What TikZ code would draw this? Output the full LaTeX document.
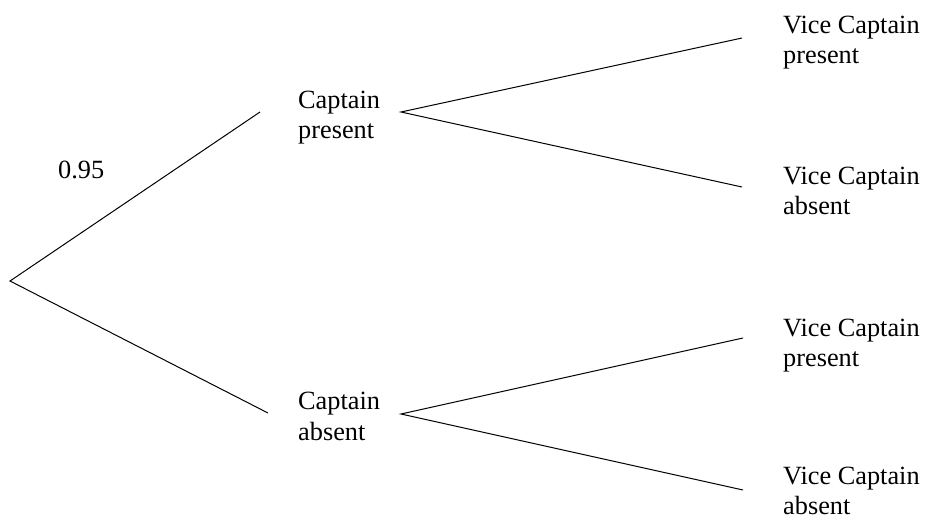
\documentclass[tikz,border=0pt]{standalone}
\usepackage{fontspec}
\setmainfont{Liberation Serif}
\begin{document}
\begin{tikzpicture}[x=1pt,y=-1pt,
  lbl/.style={anchor=base west,inner sep=0pt,align=left,font=\fontsize{26.3}{30.5}\selectfont},
  br/.style={line width=1pt,black}]
\useasboundingbox (0,0) rectangle (925,520);
\coordinate (root) at (10,281);
\coordinate (cpL) at (260,112);
\coordinate (caL) at (268,413);
\coordinate (cpR) at (401,112);
\coordinate (caR) at (401,414);
\coordinate (e1) at (742,38);
\coordinate (e2) at (742,187);
\coordinate (e3) at (743,338);
\coordinate (e4) at (743,490);
\node[lbl] (cp) at (298,138.5) {Captain\\present};
\node[lbl] (ca) at (298,440) {Captain\\absent};
\node[lbl] (p) at (58,178) {0.95};
\node[lbl] (v1) at (783,63.5) {Vice Captain\\present};
\node[lbl] (v2) at (783,214.5) {Vice Captain\\absent};
\node[lbl] (v3) at (783,366.5) {Vice Captain\\present};
\node[lbl] (v4) at (783,514.5) {Vice Captain\\absent};
\draw[br] (cpL) -- (root) -- (caL);
\draw[br] (e1) -- (cpR) -- (e2);
\draw[br] (e3) -- (caR) -- (e4);
\end{tikzpicture}
\end{document}
